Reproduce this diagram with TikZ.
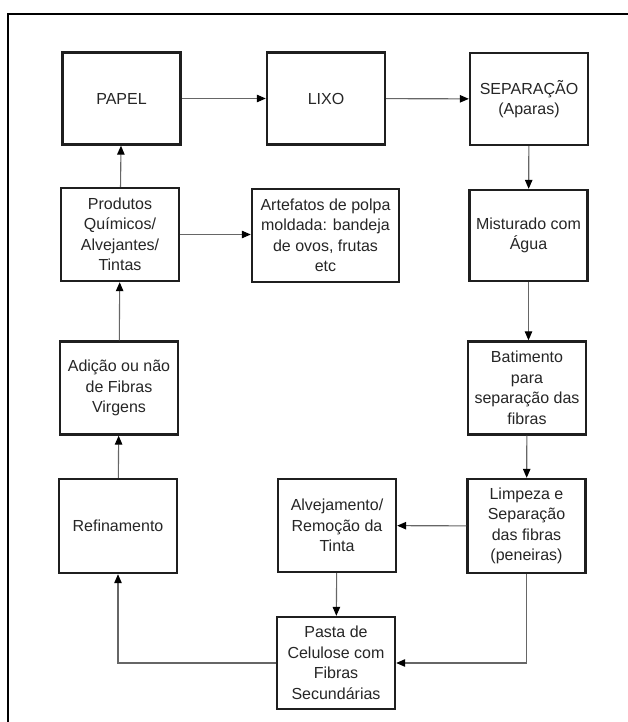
\documentclass[tikz,border=0pt]{standalone}
\usepackage{fontspec}
\setmainfont{Liberation Sans}
\usetikzlibrary{arrows.meta}
\begin{document}
\begin{tikzpicture}[x=1pt,y=-1pt,
  box/.style={draw=black!88,line width=2.4pt,fill=white,minimum width=118pt,minimum height=92pt,
    inner sep=0pt,align=center,font=\fontsize{16}{20.5}\selectfont,text=black!85},
  flow/.style={draw=black!60,line width=1.1pt,-{Triangle[length=9pt,width=7.5pt,color=black]}}]
\useasboundingbox (0,0) rectangle (628,722);
\draw[line width=2.2pt,line cap=rect] (8,722) -- (8,14) -- (628,14);
% row 1
\node[box] (papel) at (121.5,98.5) {PAPEL};
\node[box] (lixo) at (326,98.5) {LIXO};
\node[box] (sep) at (529,99) {SEPARAÇÃO\\(Aparas)};
% row 2
\node[box,minimum height=93pt] (prod) at (120,234.5) {Produtos\\Químicos/\\Alvejantes/\\Tintas};
\node[box,minimum width=147pt,minimum height=93pt] (art) at (325.5,235.5) {Artefatos de polpa\\moldada: bandeja\\de ovos, frutas\\etc};
\node[box,minimum height=91pt] (mist) at (528.5,235.5) {Misturado com\\Água};
% row 3
\node[box,minimum height=93pt] (adic) at (119,388) {Adição ou não\\de Fibras\\Virgens};
\node[box,minimum height=93pt] (bat) at (527,388) {Batimento\\para\\separação das\\fibras};
% row 4
\node[box,minimum height=94pt] (ref) at (118,526) {Refinamento};
\node[box,minimum height=93pt] (alv) at (337,525.5) {Alvejamento/\\Remoção da\\Tinta};
\node[box,minimum height=94pt] (limp) at (526.5,526) {Limpeza e\\Separação\\das fibras\\(peneiras)};
% row 5
\node[box] (pasta) at (336,663) {Pasta de\\Celulose com\\Fibras\\Secundárias};
% connectors
\draw[flow] (papel) -- (lixo);
\draw[flow] (lixo) -- (sep);
\draw[flow] (sep) -- (mist);
\draw[flow] (mist.south) -- (mist.south |- bat.north);
\draw[flow] (bat) -- (limp);
\draw[flow] (limp) -- (alv);
\draw[flow] (alv) -- (pasta);
\draw[flow] (limp.south) |- (pasta.east);
\draw[flow] (pasta.west) -| (ref.south);
\draw[flow] (ref) -- (adic);
\draw[flow] (adic) -- (prod);
\draw[flow] (prod) -- (papel);
\draw[flow] (prod.east) -- (prod.east -| art.west);
\end{tikzpicture}
\end{document}
